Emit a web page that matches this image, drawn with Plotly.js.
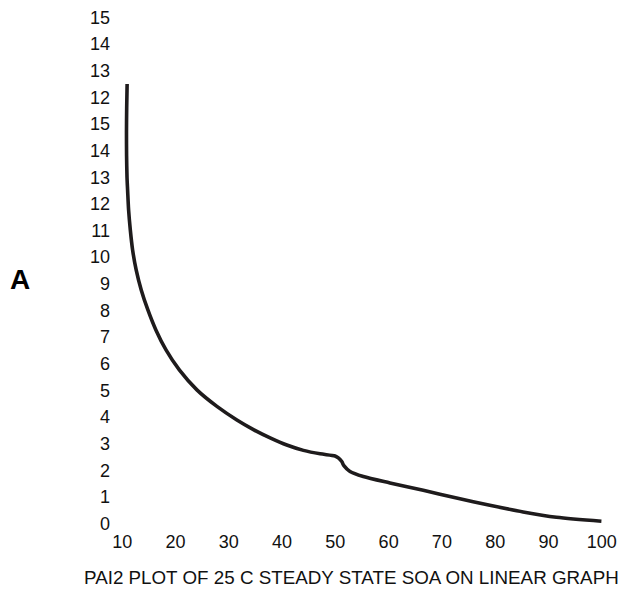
<!DOCTYPE html>
<html>
<head>
<meta charset="utf-8">
<script src="https://cdn.plot.ly/plotly-3.0.1.min.js"></script>
<style>html,body{margin:0;padding:0;background:#fff;}#chart{width:621px;height:590px;}</style>
</head>
<body>
<div id="chart"></div>
<script>
// Curve (x = x-axis value, y = position on the y axis scale)
var curveX = [10.9, 10.82, 10.78, 10.8, 10.88, 10.99, 11.18, 11.50, 11.93, 12.6, 13.55, 14.8, 16.3, 18.2, 20.7, 24.0, 27.76, 31.51, 34.62, 37.75, 40.88, 44.0, 47.13, 49.94, 50.56, 51.2, 51.6, 52.75, 55.25, 60.25, 66.5, 72.76, 79.0, 85.25, 91.5, 99.95];
var curveY = [16.5, 15.6, 14.7, 13.8, 13.0, 12.52, 11.77, 11.02, 10.27, 9.52, 8.77, 8.02, 7.27, 6.52, 5.77, 5.02, 4.40, 3.89, 3.53, 3.22, 2.95, 2.75, 2.62, 2.54, 2.47, 2.33, 2.18, 1.96, 1.77, 1.53, 1.25, 0.96, 0.69, 0.44, 0.24, 0.09];

var xTickVals = [10, 20, 30, 40, 50, 60, 70, 80, 90, 100];
var xTickText = ['10', '20', '30', '40', '50', '60', '70', '80', '90', '100'];
var yTickVals = [0, 1, 2, 3, 4, 5, 6, 7, 8, 9, 10, 11, 12, 13, 14, 15, 16, 17, 18, 19];
var yTickText = ['0', '1', '2', '3', '4', '5', '6', '7', '8', '9', '10', '11', '12', '13', '14', '15', '12', '13', '14', '15'];

var titleText = 'PAI2 PLOT OF 25 C STEADY STATE SOA ON LINEAR GRAPH';
var sideLabel = 'A';

var trace = {
  x: curveX, y: curveY, type: 'scatter', mode: 'lines',
  line: {color: '#1e1b1c', width: 3.6, shape: 'spline', smoothing: 0.8},
  hoverinfo: 'skip'
};

var layout = {
  width: 621, height: 590,
  margin: {l: 117, r: 14, t: 4, b: 61},
  paper_bgcolor: '#fff', plot_bgcolor: '#fff',
  showlegend: false,
  font: {family: '"Liberation Sans", Arial, sans-serif', color: '#111', size: 18},
  xaxis: {
    range: [9, 101], showgrid: false, zeroline: false, showline: false, ticks: '',
    tickmode: 'array', tickvals: xTickVals, ticktext: xTickText,
    tickfont: {size: 18, color: '#111'}
  },
  yaxis: {
    range: [-0.2, 19.5], showgrid: false, zeroline: false, showline: false, ticks: '',
    tickmode: 'array', tickvals: yTickVals, ticktext: yTickText,
    tickfont: {size: 18, color: '#111'}, ticklabelstandoff: 6
  },
  annotations: [
    {text: titleText, xref: 'paper', yref: 'paper', x: 0.4786, y: -0.0933, showarrow: false,
     xanchor: 'center', yanchor: 'middle', font: {size: 18.8, color: '#111'}},
    {text: '<b>' + sideLabel + '</b>', xref: 'paper', yref: 'paper', x: -0.198, y: 0.476, showarrow: false,
     xanchor: 'center', yanchor: 'middle', font: {size: 28, color: '#000'}}
  ]
};

Plotly.newPlot('chart', [trace], layout, {displayModeBar: false, staticPlot: true});
</script>
</body>
</html>
